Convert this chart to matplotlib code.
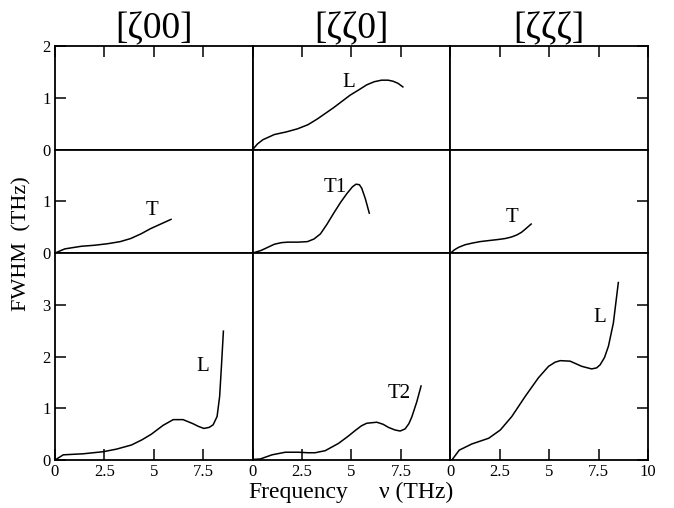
"""FWHM of phonon modes along three directions"""
import numpy as np
from matplotlib import pyplot as plt

plt.rcParams['font.family'] = ['Liberation Serif', 'DejaVu Serif']

directions = ['[ζ00]', '[ζζ0]', '[ζζζ]']

# top-middle: L along [zz0]
nu_zz0_L = [0.0, 0.25, 0.52, 1.1, 1.7, 2.27, 2.8, 3.27, 4.1, 4.93, 5.4, 5.77, 6.15, 6.52, 6.85, 7.1, 7.35, 7.6]
fw_zz0_L = [0.0, 0.11, 0.19, 0.29, 0.34, 0.40, 0.48, 0.59, 0.81, 1.05, 1.16, 1.25, 1.31, 1.34, 1.34, 1.32, 1.28, 1.21]

# middle row
nu_z00_T = [0.0, 0.5, 1.33, 2.0, 2.67, 3.3, 3.83, 4.35, 4.83, 5.35, 5.87]
fw_z00_T = [0.0, 0.08, 0.13, 0.15, 0.18, 0.22, 0.28, 0.37, 0.47, 0.56, 0.65]

nu_zz0_T1 = [0.0, 0.43, 1.1, 1.45, 1.77, 2.3, 2.77, 3.1, 3.43, 3.75, 4.1, 4.45, 4.77, 5.05, 5.23, 5.4, 5.52, 5.7, 5.9]
fw_zz0_T1 = [0.0, 0.05, 0.17, 0.20, 0.21, 0.21, 0.22, 0.27, 0.37, 0.55, 0.77, 0.98, 1.15, 1.28, 1.33, 1.32, 1.25, 1.05, 0.77]

nu_zzz_T = [0.05, 0.2, 0.42, 0.75, 1.09, 1.5, 1.94, 2.4, 2.78, 3.1, 3.37, 3.6, 3.79, 4.09]
fw_zzz_T = [0.01, 0.06, 0.11, 0.16, 0.19, 0.22, 0.24, 0.26, 0.28, 0.31, 0.35, 0.40, 0.46, 0.56]

# bottom row
nu_z00_L = [0.0, 0.42, 1.43, 2.44, 3.11, 3.87, 4.4, 4.88, 5.47, 5.98, 6.48, 6.99, 7.25, 7.53, 7.8, 8.0, 8.2, 8.33, 8.42, 8.52]
fw_z00_L = [0.0, 0.10, 0.12, 0.16, 0.21, 0.29, 0.39, 0.50, 0.67, 0.78, 0.78, 0.70, 0.65, 0.61, 0.63, 0.68, 0.84, 1.23, 1.81, 2.49]

nu_zz0_T2 = [0.0, 0.39, 0.98, 1.65, 2.32, 2.8, 3.16, 3.67, 4.34, 4.8, 5.19, 5.5, 5.77, 6.28, 6.6, 6.87, 7.2, 7.46, 7.71, 7.9, 8.05, 8.3, 8.52]
fw_zz0_T2 = [0.01, 0.02, 0.10, 0.15, 0.15, 0.14, 0.14, 0.18, 0.32, 0.45, 0.57, 0.66, 0.71, 0.73, 0.69, 0.63, 0.58, 0.56, 0.60, 0.70, 0.83, 1.12, 1.43]

nu_zzz_L = [0.08, 0.45, 1.09, 1.94, 2.53, 3.11, 3.79, 4.46, 4.97, 5.3, 5.56, 6.06, 6.65, 7.15, 7.4, 7.58, 7.8, 8.0, 8.25, 8.5]
fw_zzz_L = [0.0, 0.19, 0.31, 0.42, 0.58, 0.84, 1.23, 1.59, 1.81, 1.89, 1.92, 1.91, 1.81, 1.76, 1.78, 1.84, 1.98, 2.20, 2.65, 3.43]

# (row, col) -> (x, y, label, label x, label y)
curves = {
    (0, 1): (nu_zz0_L, fw_zz0_L, 'L', 4.85, 1.3),
    (1, 0): (nu_z00_T, fw_z00_T, 'T', 4.9, 0.83),
    (1, 1): (nu_zz0_T1, fw_zz0_T1, 'T1', 4.2, 1.27),
    (1, 2): (nu_zzz_T, fw_zzz_T, 'T', 3.1, 0.69),
    (2, 0): (nu_z00_L, fw_z00_L, 'L', 7.45, 1.8),
    (2, 1): (nu_zz0_T2, fw_zz0_T2, 'T2', 7.4, 1.29),
    (2, 2): (nu_zzz_L, fw_zzz_L, 'L', 7.55, 2.75),
}
ylims = [2, 2, 4]
yticks = [[0, 1, 2], [0, 1], [0, 1, 2, 3]]

fig = plt.figure(figsize=(6.74, 5.08), dpi=100)
gs = fig.add_gridspec(3, 3, height_ratios=[1, 1, 2], hspace=0, wspace=0,
                      left=0.0816, right=0.9614, top=0.9094, bottom=0.0945)

for r in range(3):
    for c in range(3):
        ax = fig.add_subplot(gs[r, c])
        ax.set_xlim(0, 10)
        ax.set_ylim(0, ylims[r])
        for sp in ax.spines.values():
            sp.set_linewidth(1.3)
        if (r, c) in curves:
            x, y, lab, lx, ly = curves[(r, c)]
            ax.plot(x, y, color='black', lw=1.1, solid_joinstyle='round')
            ax.text(lx, ly, lab, fontsize=15, ha='center', va='center')
        xt = [0, 2.5, 5, 7.5, 10] if c == 2 else [0, 2.5, 5, 7.5]
        ax.set_xticks(xt)
        ax.set_xticklabels(['0', '2.5', '5', '7.5', '10'][:len(xt)])
        ax.set_yticks(yticks[r])
        ax.tick_params(direction='in', length=8, width=1.1, labelsize=12, pad=3,
                       left=(c == 0), right=(c == 2), top=(r == 0), bottom=(r == 2),
                       labelleft=(c == 0), labelbottom=(r == 2))
        if r == 0:
            ax.set_title(directions[c], fontsize=27, pad=1)

fig.text(0.442, 0.010, 'Frequency', fontsize=17, ha='center', va='bottom')
fig.text(0.618, 0.010, 'ν (THz)', fontsize=17, ha='center', va='bottom')
fig.text(0.033, 0.52, 'FWHM  (THz)', fontsize=16, rotation=90, ha='center', va='center')

fig.savefig('out.png', dpi=100)
